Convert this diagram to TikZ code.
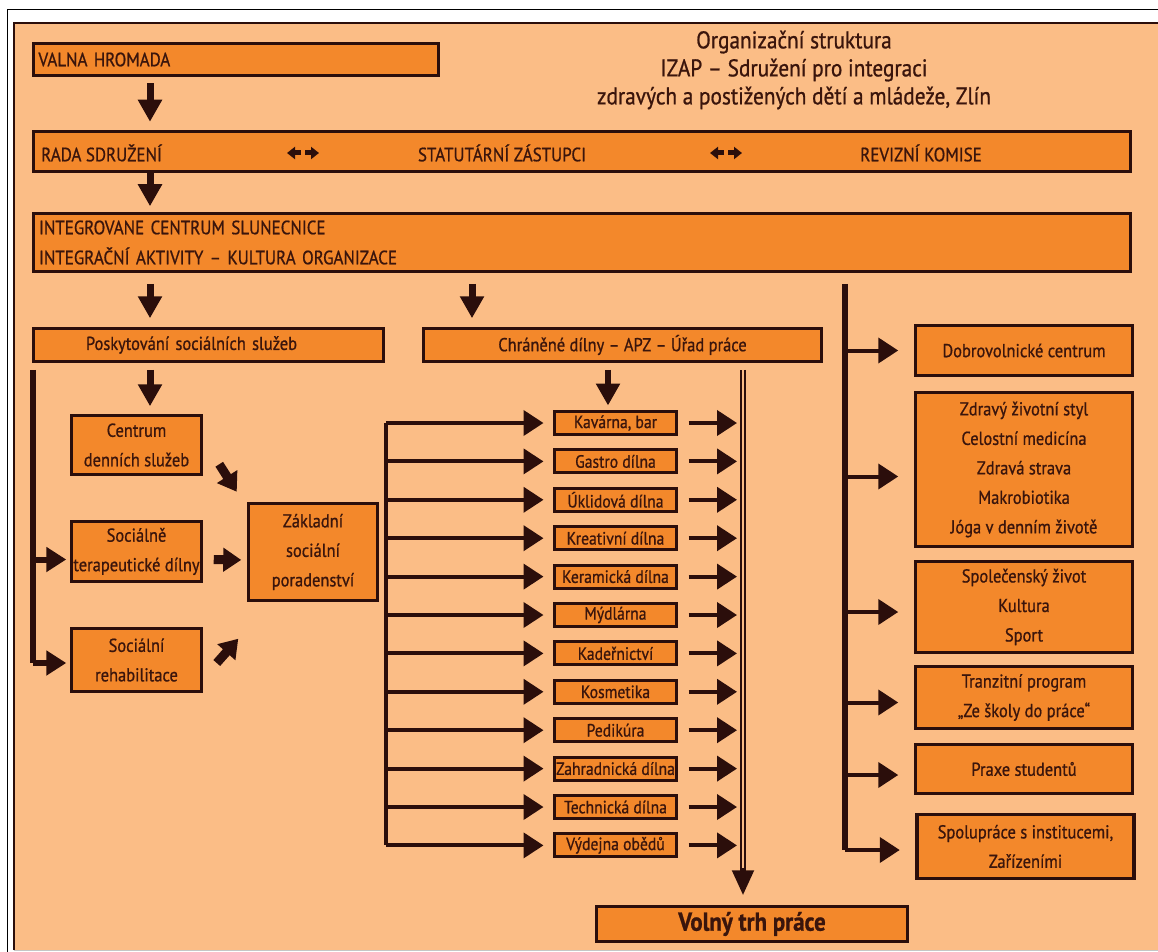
\documentclass[tikz,border=0pt]{standalone}
\usepackage{fontspec}
\setmainfont{PT Sans}[FakeStretch=0.88, FakeBold=0.8]
\usetikzlibrary{arrows.meta}
\definecolor{bgorange}{HTML}{FBBD86}
\definecolor{boxorange}{HTML}{F3882B}
\definecolor{darkline}{HTML}{2B0E0B}
\definecolor{txtbrown}{HTML}{3A150C}
\tikzset{
  box/.style={draw=darkline, line width=3.5pt, fill=boxorange, text=txtbrown,
    inner sep=0pt, align=center, font=\fontsize{18.7}{29.5}\selectfont},
  wbox/.style={box, line width=3pt, minimum width=122pt, minimum height=23pt,
    font=\fontsize{17.8}{20}\selectfont},
  rbox/.style={box, minimum width=217pt},
  txt/.style={text=txtbrown, inner sep=0pt, font=\fontsize{19.3}{22}\selectfont},
  bigarrow/.style={draw=darkline, line width=7pt, -{Triangle[length=22pt,width=23pt]}},
  blockarrow/.style={draw=darkline, line width=9pt, -{Triangle[length=18pt,width=23pt]}},
  thinarrow/.style={draw=darkline, line width=4pt, -{Triangle[length=20pt,width=25pt]}},
  duoarrow/.style={draw=darkline, line width=5pt, -{Triangle[length=8pt,width=12pt]}},
  spine/.style={draw=darkline, line width=6pt},
}
\begin{document}
\begin{tikzpicture}[x=1pt, y=-1pt]
\useasboundingbox (0,0) rectangle (1158,952);
% background and frame
\fill[white] (0,0) rectangle (1158,952);
\fill[bgorange] (14,23) rectangle (1158,950);
\draw[gray!45, line width=1pt] (14,950.5) -- (1158,950.5);
\draw[darkline, line width=2.5pt] (14,950) -- (14,23) -- (1158,23);
\draw[black, line width=1pt] (7,952) -- (7,10) -- (1158,10);

% title
\node[txt, align=center, font=\fontsize{24.2}{28}\selectfont] (title) at (794,70)
  {Organizační struktura\\IZAP -- Sdružení pro integraci\\zdravých a postižených dětí a mládeže, Zlín};

% top boxes
\node[box, minimum width=405pt, minimum height=32pt, text width=395pt, align=left,
  font=\fontsize{19.3}{22}\selectfont] (valna) at (236,59.5) {VALNA HROMADA};
\node[box, minimum width=1097pt, minimum height=40pt] (rada) at (582,151.5) {};
\node[txt, anchor=west] (radasdr) at (41,153) {RADA SDRUŽENÍ};
\node[txt] (statut) at (502,153) {STATUTÁRNÍ ZÁSTUPCI};
\node[txt] (revize) at (921,153) {REVIZNÍ KOMISE};
\foreach \cx in {303,726}{
  \draw[duoarrow] (\cx-2,153) -- (\cx-16,153);
  \draw[duoarrow] (\cx+2,153) -- (\cx+16,153);
}
\node[box, minimum width=1097pt, minimum height=58pt, text width=1086pt, align=left,
  font=\fontsize{19.3}{30}\selectfont] (integr) at (582,242.5)
  {INTEGROVANE CENTRUM SLUNECNICE\\INTEGRAČNÍ AKTIVITY -- KULTURA ORGANIZACE};

% middle row
\node[box, minimum width=350pt, minimum height=33pt, text width=330pt] (posk) at (208.5,345)
  {Poskytování sociálních služeb\hspace*{34pt}};
\node[box, minimum width=398pt, minimum height=33pt] (chran) at (622.5,345)
  {Chráněné dílny -- APZ -- Úřad práce};

% social services
\node[box, minimum width=130pt, minimum height=59pt] (centrum) at (136.5,445) {Centrum\\denních služeb};
\node[box, minimum width=130pt, minimum height=60pt] (socter) at (136.5,551.5) {Sociálně\\terapeutické dílny};
\node[box, minimum width=130pt, minimum height=63pt] (socreh) at (136.5,660) {Sociální\\rehabilitace};
\node[box, minimum width=129pt, minimum height=97pt] (zaklad) at (313,552) {Základní\\sociální\\poradenství};

% sheltered workshops
\coordinate (mspine) at (386,0);
\coordinate (dspine) at (743,0);
\foreach \t [count=\i] in {{Kavárna, bar}, Gastro dílna, Úklidová dílna, Kreativní dílna,
    Keramická dílna, Mýdlárna, Kadeřnictví, Kosmetika, Pedikúra, Zahradnická dílna,
    Technická dílna, Výdejna obědů}{
  \node[wbox] (w\i) at (615.5,384.6+38.4*\i) {\t};
  \draw[thinarrow, shorten >=9.5pt] (w\i.west -| mspine) -- (w\i.west);
  \draw[thinarrow, shorten <=10.5pt, shorten >=6pt] (w\i.east) -- (w\i.east -| dspine);
}
\draw[darkline, line width=4pt] (w1.west -| mspine) -- (w12.west -| mspine);
\node[box, minimum width=311pt, minimum height=35pt, font=\fontsize{26}{30}\selectfont\bfseries]
  (volny) at (752,924) {Volný trh práce};
\coordinate (dtip) at ([yshift=9.5pt]volny.north -| dspine);
\draw[darkline, line width=2pt, double=bgorange, double distance=2pt, shorten <=6.5pt]
  (chran.south -| dspine) -- ([yshift=23pt]dtip);
\draw[darkline, line width=5pt, -{Triangle[length=25pt,width=21pt]}] ([yshift=27pt]dtip) -- (dtip);

% right column
\node[rbox, minimum height=50pt] (dobro) at (1024,350.5) {Dobrovolnické centrum};
\node[rbox, minimum height=154pt] (zdravy) at (1024,469.5)
  {Zdravý životní styl\\Celostní medicína\\Zdravá strava\\Makrobiotika\\Jóga v denním životě};
\node[rbox, minimum height=91pt] (spol) at (1024,607) {Společenský život\\Kultura\\Sport};
\node[rbox, minimum height=62pt] (tranz) at (1024,697.5) {Tranzitní program\\„Ze školy do práce“};
\node[rbox, minimum height=49pt] (praxe) at (1024,769) {Praxe studentů};
\node[rbox, minimum height=64pt] (spolupr) at (1025.5,846.5) {Spolupráce s institucemi,\\Zařízeními};
\coordinate (rspine) at (845,850);
\draw[spine, shorten <=10.5pt] (integr.south -| rspine) -- (rspine);
\foreach \b/\dy in {dobro/0, zdravy/-7, spol/-5, tranz/-5, praxe/-6, spolupr/-3.5}{
  \path ([yshift=\dy pt]\b.west) coordinate (bw);
  \draw[thinarrow, shorten >=15.5pt] (bw -| rspine) -- (bw);
}

% main arrows
\coordinate (colA) at (150,0);
\coordinate (colB) at (472,0);
\coordinate (colC) at (608,0);
\coordinate (lspine) at (33,0);
\draw[bigarrow, shorten <=6pt, shorten >=8pt] (valna.south -| colA) -- (rada.north -| colA);
\draw[bigarrow, shorten <=-3pt, shorten >=5.5pt] (rada.south -| colA) -- (integr.north -| colA);
\draw[bigarrow, shorten <=10.5pt, shorten >=8.5pt] (integr.south -| colA) -- (posk.north -| colA);
\draw[bigarrow, shorten <=10.5pt, shorten >=8.5pt] (integr.south -| colB) -- (chran.north -| colB);
\draw[bigarrow, shorten <=6.5pt, shorten >=7.5pt] (posk.south -| colA) -- (centrum.north -| colA);
\draw[bigarrow, line width=6pt, shorten <=6.5pt, shorten >=4.5pt] (chran.south -| colC) -- (w1.north -| colC);

% social services connectors
\draw[spine, shorten <=6.5pt] (posk.south -| lspine) -- ([yshift=-3pt]socreh.west -| lspine);
\draw[thinarrow, line width=6pt, -{Triangle[length=20pt,width=24pt]}, shorten >=3.5pt]
  ([yshift=-8pt]socter.west -| lspine) -- ([yshift=-8pt]socter.west);
\draw[thinarrow, line width=6pt, -{Triangle[length=20pt,width=24pt]}, shorten >=3.5pt]
  ([yshift=-3pt]socreh.west -| lspine) -- ([yshift=-3pt]socreh.west);
\draw[blockarrow] ([shift={(16,-12)}]centrum.south east) -- ([shift={(-10,-10)}]zaklad.north west);
\draw[blockarrow, shorten <=10.5pt, shorten >=5.5pt] ([yshift=-8pt]socter.east) -- ([yshift=-8pt]zaklad.west);
\draw[blockarrow] ([shift={(13.5,3)}]socreh.east) -- ([shift={(-8.5,36.5)}]zaklad.south west);
\end{tikzpicture}
\end{document}
